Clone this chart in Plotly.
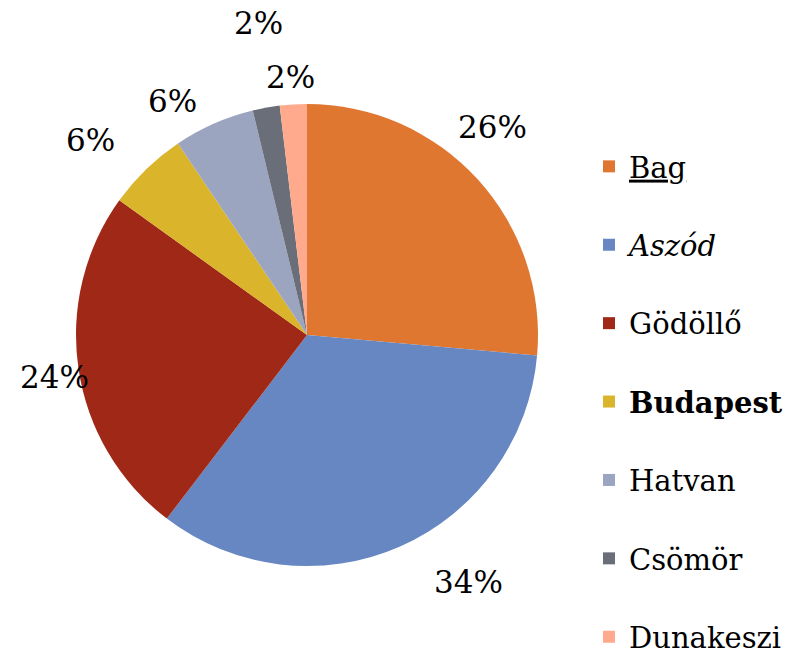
import plotly.graph_objects as go

categories = ["Bag", "Aszód", "Gödöllő", "Budapest", "Hatvan", "Csömör", "Dunakeszi"]
counts = [14, 18, 13, 3, 3, 1, 1]
colors = ["#E07730", "#6787C2", "#A02816", "#DAB42A", "#9BA5BF", "#6A6E78", "#FFAA8C"]

# percentage labels rounded so they sum to 100 (largest remainder)
total = sum(counts)
raw = [c * 100 / total for c in counts]
floors = [int(v) for v in raw]
left = 100 - sum(floors)
order = sorted(range(len(raw)), key=lambda i: raw[i] - floors[i], reverse=True)
for i in order[:left]:
    floors[i] += 1
pct_text = [f"{p}%" for p in floors]

styles = {"Bag": "<u>{}</u>", "Aszód": "<i>{}</i>", "Budapest": "<b>{}</b>"}
legend_labels = []
for i, c in enumerate(categories):
    s = styles.get(c, "{}").format(c)
    if i < len(categories) - 1:
        s += "<br>&nbsp;"
    legend_labels.append(s)

# page offset (browser body margin) compensation
OFF = 8
W, H = 799, 650
cx, cy, r = 307 - OFF, 335 - OFF, 231

# label placement (screen pixels of each percentage label centre)
label_xy = [(492, 127), (468, 582), (54, 377), (90, 140), (172, 101), (258, 23), (290, 77)]

fig = go.Figure(go.Pie(
    labels=legend_labels,
    values=counts,
    textinfo="none",
    textposition="none",
    sort=False,
    direction="clockwise",
    rotation=0,
    marker=dict(colors=colors, line=dict(width=0)),
    domain=dict(x=[(cx - r) / W, (cx + r) / W], y=[1 - (cy + r) / H, 1 - (cy - r) / H]),
    showlegend=True,
    hoverinfo="skip",
))

for t, (x, y) in zip(pct_text, label_xy):
    fig.add_annotation(
        text=t, x=(x - OFF) / W, y=1 - (y - OFF) / H, xref="paper", yref="paper",
        xanchor="center", yanchor="middle", showarrow=False,
        font=dict(family="DejaVu Serif", size=31, color="#000000"),
    )

fig.update_layout(
    width=W, height=H,
    margin=dict(l=0, r=0, t=0, b=0, autoexpand=False),
    paper_bgcolor="white",
    plot_bgcolor="white",
    font=dict(family="DejaVu Serif", size=29, color="#000000"),
    legend=dict(
        x=581 / W, xanchor="left",
        y=1 - 133 / H, yanchor="top",
        valign="top",
        font=dict(family="DejaVu Serif", size=29, color="#000000"),
        bgcolor="rgba(0,0,0,0)",
        traceorder="normal",
    ),
)

fig.write_html("out.html")
